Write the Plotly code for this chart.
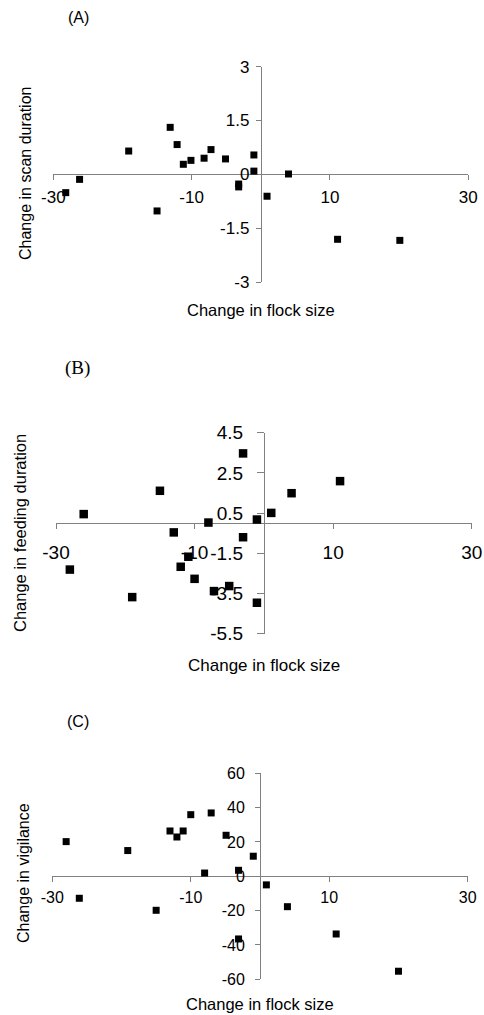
import plotly.graph_objects as go

# ---------------- data ----------------
# Panel A: change in flock size vs change in scan duration
a_flock = [-28.2, -26.2, -19.1, -15.0, -13.1, -12.1, -11.2, -10.1, -8.2, -7.2,
           -5.1, -3.2, -3.2, -1.0, -1.0, 0.9, 4.0, 11.1, 20.1]
a_scan = [-0.51, -0.14, 0.65, -1.02, 1.31, 0.83, 0.28, 0.39, 0.45, 0.69,
          0.43, -0.27, -0.35, 0.54, 0.09, -0.61, 0.01, -1.81, -1.84]

# Panel B: change in flock size vs change in feeding duration
b_flock = [-26.0, -28.0, -19.0, -15.0, -13.0, -12.0, -10.9, -10.0, -8.0, -7.2,
           -5.0, -3.0, -3.0, -1.0, -1.0, 1.07, 4.0, 11.0]
b_feed = [0.45, -2.31, -3.68, 1.61, -0.46, -2.17, -1.67, -2.77, 0.03, -3.38,
          -3.13, 3.47, -0.70, 0.18, -3.96, 0.51, 1.49, 2.09]

# Panel C: change in flock size vs change in vigilance
c_flock = [-28.0, -26.1, -19.1, -15.0, -13.0, -12.0, -11.1, -10.0, -8.0, -7.05,
           -4.9, -3.1, -3.1, -0.97, 0.92, 3.96, 11.0, 20.0]
c_vig = [20.2, -12.8, 15.0, -19.8, 26.4, 22.9, 26.4, 35.9, 1.9, 36.9,
         23.9, 3.5, -36.5, 11.7, -5.0, -17.7, -33.6, -55.3]

# axis ranges / ticks
x_range = [-30, 30]
x_ticks = [-30, -10, 10, 30]
a_range = [-3, 3]
a_ticks = [-3, -1.5, 0, 1.5, 3]
b_range = [-5.5, 4.5]
b_ticks = [-5.5, -3.5, -1.5, 0.5, 2.5, 4.5]
c_range = [-60, 60]
c_ticks = [-60, -40, -20, 0, 20, 40, 60]

panel_labels = ["(A)", "(B)", "(C)"]
x_title = "Change in flock size"
y_titles = ["Change in scan duration", "Change in feeding duration", "Change in vigilance"]

# ---------------- layout helpers ----------------
W, H = 484, 1015


def px_x(p):
    return p / W


def px_y(p):
    return 1 - p / H


panels = [
    dict(x=a_flock, y=a_scan, yr=a_range, yt=a_ticks,
         xd=[px_x(53.3), px_x(468.3)], yd=[px_y(282), px_y(66.7)],
         tick_size=17, ticklen_y=5, msize=7, xstand=2, ystand=3,
         label_font=dict(family="Liberation Sans, Arial", size=16),
         label_pos=(78.5, 17), xt_pos=(260.8, 310), yt_pos=(25, 174), ttl=16.5),
    dict(x=b_flock, y=b_feed, yr=b_range, yt=b_ticks,
         xd=[px_x(56), px_x(471.7)], yd=[px_y(633.7), px_y(432.7)],
         tick_size=19, ticklen_y=7, msize=8.5, xstand=7, ystand=10,
         label_font=dict(family="Liberation Serif, Times New Roman", size=19),
         label_pos=(77.5, 368), xt_pos=(264, 665), yt_pos=(20, 533), ttl=17),
    dict(x=c_flock, y=c_vig, yr=c_range, yt=c_ticks,
         xd=[px_x(52.3), px_x(467.7)], yd=[px_y(979.3), px_y(773.3)],
         tick_size=16, ticklen_y=5, msize=7, xstand=1, ystand=7,
         label_font=dict(family="Liberation Sans, Arial", size=16),
         label_pos=(78, 721), xt_pos=(259.7, 1004), yt_pos=(23, 873), ttl=16.5),
]

fig = go.Figure()
layout = dict(width=W, height=H, autosize=False,
              margin=dict(l=0, r=0, t=0, b=0, pad=0, autoexpand=False),
              paper_bgcolor="white", plot_bgcolor="white", showlegend=False,
              font=dict(family="Liberation Sans, Arial", color="black"))
annotations = []
axis_color = "#808080"

for i, p in enumerate(panels):
    n = "" if i == 0 else str(i + 1)
    fig.add_trace(go.Scatter(x=p["x"], y=p["y"], mode="markers",
                             marker=dict(symbol="square", size=p["msize"], color="black"),
                             xaxis="x" + n, yaxis="y" + n, cliponaxis=False))
    yr = p["yr"]
    xpos = p["yd"][0] + (0 - yr[0]) / (yr[1] - yr[0]) * (p["yd"][1] - p["yd"][0])
    ypos = p["xd"][0] + (0 - x_range[0]) / (x_range[1] - x_range[0]) * (p["xd"][1] - p["xd"][0])
    layout["xaxis" + n] = dict(domain=p["xd"], range=x_range, anchor="free", position=xpos,
                               tickvals=x_ticks, ticktext=[str(t) for t in x_ticks],
                               showgrid=False, zeroline=False, showline=True,
                               linecolor=axis_color, linewidth=1, ticks="outside",
                               ticklen=5, tickcolor=axis_color, layer="below traces",
                               ticklabelstandoff=p["xstand"], automargin=False,
                               tickfont=dict(size=p["tick_size"], color="black"),
                               fixedrange=True)
    layout["yaxis" + n] = dict(domain=p["yd"], range=yr, anchor="free", position=ypos,
                               tickvals=p["yt"], ticktext=[f"{t:g}" for t in p["yt"]],
                               showgrid=False, zeroline=False, showline=True,
                               linecolor=axis_color, linewidth=1, ticks="outside",
                               ticklen=p["ticklen_y"], tickcolor=axis_color, layer="below traces",
                               ticklabelstandoff=p["ystand"], automargin=False,
                               tickfont=dict(size=p["tick_size"], color="black"),
                               fixedrange=True)
    lx, ly = p["label_pos"]
    annotations.append(dict(text=panel_labels[i], x=px_x(lx), y=px_y(ly), xref="paper", yref="paper",
                            showarrow=False, xanchor="center", yanchor="middle", font=p["label_font"]))
    tx, ty = p["xt_pos"]
    annotations.append(dict(text=x_title, x=px_x(tx), y=px_y(ty), xref="paper", yref="paper",
                            showarrow=False, xanchor="center", yanchor="middle",
                            font=dict(size=p["ttl"], color="black")))
    vx, vy = p["yt_pos"]
    annotations.append(dict(text=y_titles[i], x=px_x(vx), y=px_y(vy), xref="paper", yref="paper",
                            showarrow=False, xanchor="center", yanchor="middle", textangle=-90,
                            font=dict(size=p["ttl"] - 0.5, color="black")))

layout["annotations"] = annotations
fig.update_layout(**layout)
fig.write_html("out.html", config={"displayModeBar": False},
               post_script="document.body.style.margin='0';document.body.style.overflow='hidden';")
